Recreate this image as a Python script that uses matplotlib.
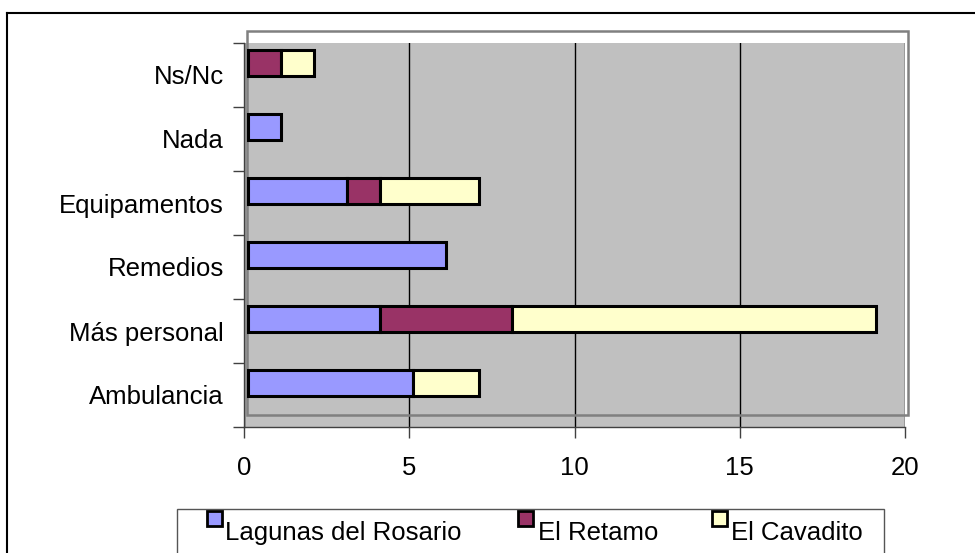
import numpy as np
import matplotlib
matplotlib.use("Agg")
import matplotlib.pyplot as plt
import matplotlib.transforms as mtransforms
from matplotlib.patches import Rectangle
from matplotlib.lines import Line2D

plt.rcParams["font.family"] = ["Liberation Sans", "DejaVu Sans"]

# data (bottom to top)
categories = ["Ambulancia", "Más personal", "Remedios", "Equipamentos", "Nada", "Ns/Nc"]
lagunas = [5, 4, 6, 3, 1, 0]
retamo = [0, 4, 0, 1, 0, 1]
cavadito = [2, 11, 0, 3, 0, 1]
series_names = ["Lagunas del Rosario", "El Retamo", "El Cavadito"]
series_colors = ["#9999FF", "#993366", "#FFFFCC"]
x_ticks = [0, 5, 10, 15, 20]

W, H = 975, 553
fs = 18.5

fig = plt.figure(figsize=(W / 100, H / 100), dpi=100)
ax = fig.add_axes([244 / W, 1 - 427 / H, (905 - 244) / W, (427 - 43) / H])
ax.set_facecolor("#C0C0C0")

# bars sit on the back wall: shifted a few pixels right / up
bar_tr = ax.transData + mtransforms.ScaledTranslation(4 / 100, 12 / 100, fig.dpi_scale_trans)

y = np.arange(len(categories))
left = np.zeros(len(categories))
for vals, col in zip([lagunas, retamo, cavadito], series_colors):
    vals = np.array(vals, dtype=float)
    m = vals > 0
    ax.barh(y[m], vals[m], left=left[m], height=0.4, color=col,
            edgecolor="black", linewidth=2.2, transform=bar_tr, zorder=3)
    left += vals

ax.set_xlim(0, 20)
ax.set_ylim(-0.5, len(categories) - 0.5)

ax.set_xticks(x_ticks)
ax.xaxis.grid(True, color="black", linewidth=1)
ax.set_axisbelow(True)

ax.set_yticks(np.arange(-0.5, len(categories), 1))
ax.set_yticklabels([])
ax.set_yticks(y, minor=True)
ax.set_yticklabels(categories, minor=True)

ax.tick_params(axis="y", which="major", length=8, width=1, color="#404040")
ax.tick_params(axis="y", which="minor", length=0, pad=14.5, labelsize=fs)
ax.tick_params(axis="x", length=8, width=1, color="#404040", pad=13, labelsize=fs)

for s in ["top", "right"]:
    ax.spines[s].set_visible(False)
for s in ["left", "bottom"]:
    ax.spines[s].set_color("#404040")
    ax.spines[s].set_linewidth(1)

# back wall frame
frame_tr = ax.transAxes + mtransforms.ScaledTranslation(3 / 100, 12 / 100, fig.dpi_scale_trans)
ax.add_patch(Rectangle((0, 0), 1, 1, transform=frame_tr, fill=False,
                       edgecolor="#808080", linewidth=1.8, clip_on=False, zorder=2))

# legend
fig.add_artist(Rectangle((177 / W, -0.05), (884 - 177) / W, 1 - 509 / H + 0.05,
                         transform=fig.transFigure, facecolor="white",
                         edgecolor="#555555", linewidth=1))
sq_x = [206, 517, 711]
txt_x = [225, 538, 731]
for name, col, sx, tx in zip(series_names, series_colors, sq_x, txt_x):
    fig.add_artist(Rectangle(((sx + 1) / W, 1 - 526 / H), 15 / W, 15 / H,
                             transform=fig.transFigure, facecolor=col,
                             edgecolor="black", linewidth=2))
    fig.text(tx / W, 1 - 540 / H, name, fontsize=fs, va="baseline", ha="left")

# outer chart border (top and left visible)
fig.add_artist(Line2D([7 / W, 7 / W], [0, 1 - 13 / H], transform=fig.transFigure,
                      color="black", linewidth=1.5))
fig.add_artist(Line2D([7 / W, 1], [1 - 13 / H, 1 - 13 / H], transform=fig.transFigure,
                      color="black", linewidth=1.5))

fig.savefig("out.png", dpi=100)
